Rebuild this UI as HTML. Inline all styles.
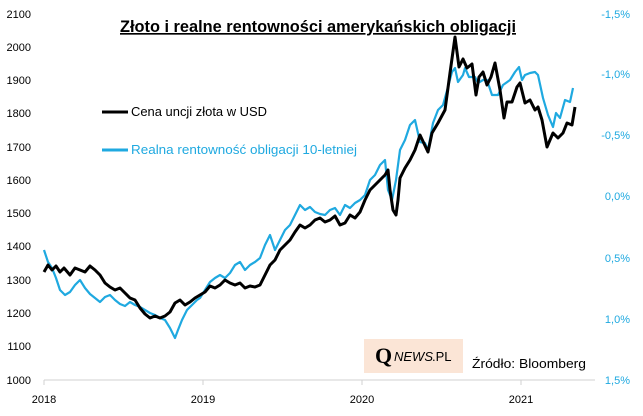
<!DOCTYPE html>
<html><head><meta charset="utf-8"><style>
body{margin:0;background:#fff;}
svg{display:block;font-family:"Liberation Sans",sans-serif;}
</style></head><body>
<svg width="643" height="416" viewBox="0 0 643 416">
<rect width="643" height="416" fill="#fff"/>
<g font-size="11" fill="#000" text-anchor="end">
<text x="31" y="18">2100</text><text x="31" y="51">2000</text><text x="31" y="84">1900</text>
<text x="31" y="117">1800</text><text x="31" y="151">1700</text><text x="31" y="184">1600</text>
<text x="31" y="217">1500</text><text x="31" y="250">1400</text><text x="31" y="284">1300</text>
<text x="31" y="317">1200</text><text x="31" y="350">1100</text><text x="31" y="384">1000</text>
</g>
<g font-size="11" fill="#1fa9e0" text-anchor="end">
<text x="630" y="18">-1,5%</text><text x="630" y="78">-1,0%</text><text x="630" y="139">-0,5%</text>
<text x="630" y="200">0,0%</text><text x="630" y="262">0,5%</text><text x="630" y="323">1,0%</text>
<text x="630" y="384">1,5%</text>
</g>
<line x1="44" y1="380" x2="595" y2="380" stroke="#d0d0d0" stroke-width="1"/>
<g stroke="#d0d0d0"><line x1="44" y1="380" x2="44" y2="385"/><line x1="203" y1="380" x2="203" y2="385"/><line x1="362" y1="380" x2="362" y2="385"/><line x1="521" y1="380" x2="521" y2="385"/></g>
<g font-size="11" text-anchor="middle"><text x="44" y="403">2018</text><text x="203" y="403">2019</text><text x="362" y="403">2020</text><text x="521" y="403">2021</text></g>
<text x="318" y="32" font-size="16.5" font-weight="bold" text-anchor="middle" text-decoration="underline" textLength="396" lengthAdjust="spacingAndGlyphs">Złoto i realne rentowności amerykańskich obligacji</text>
<line x1="102" y1="112" x2="128" y2="112" stroke="#000" stroke-width="3"/>
<text x="131" y="116" font-size="13" textLength="136" lengthAdjust="spacingAndGlyphs">Cena uncji złota w USD</text>
<line x1="102" y1="150" x2="128" y2="150" stroke="#1fa9e0" stroke-width="3"/>
<text x="131" y="154" font-size="13" fill="#1fa9e0" textLength="226" lengthAdjust="spacingAndGlyphs">Realna rentowność obligacji 10-letniej</text>
<rect x="364" y="339" width="99" height="34" fill="#fbe5d6"/>
<text x="375" y="363" font-family="Liberation Serif,serif" font-size="22" font-weight="bold">Q</text>
<text x="394" y="361" font-size="13" font-style="italic">NEWS</text><text x="432" y="361" font-size="13">.PL</text>
<text x="472" y="368" font-size="13" textLength="114" lengthAdjust="spacingAndGlyphs">Źródło: Bloomberg</text>
<polyline fill="none" stroke="#1fa9e0" stroke-width="2.2" stroke-linejoin="round" points="44,250 48,262 52,268 56,278 60,290 65,295 70,292 75,285 80,280 85,288 90,294 95,298 100,302 105,297 110,295 115,300 120,304 125,306 130,302 135,305 140,307 145,310 150,313 155,315 160,318 165,320 170,328 175,338 178,330 182,320 187,310 192,305 197,300 200,298 205,290 210,282 215,278 220,275 225,278 230,273 235,265 240,262 245,270 250,265 255,262 260,258 265,245 270,235 275,250 280,240 285,230 290,225 295,215 300,205 305,210 310,207 315,212 320,214 325,215 330,210 335,208 340,215 345,205 350,208 355,203 360,200 365,195 370,180 375,175 380,165 385,160 388,190 392,200 396,180 400,150 405,140 410,125 415,120 420,142 425,143 428,150 433,123 438,110 443,105 448,87 452,72 455,68 458,82 463,75 465,68 469,77 475,77 478,83 483,80 487,80 492,95 498,95 503,85 510,80 515,72 519,67 522,80 525,75 530,73 535,72 538,75 543,98 548,115 553,127 556,113 560,118 565,100 570,102 573,88"/>
<polyline fill="none" stroke="#000" stroke-width="3" stroke-linejoin="round" points="44,272 48,265 52,270 56,266 60,272 64,268 70,275 75,268 80,270 85,272 90,266 95,270 100,275 105,283 110,287 115,290 120,288 125,293 130,298 135,300 140,308 145,314 150,318 155,316 160,318 165,316 170,312 175,303 180,300 185,305 190,302 195,298 200,295 205,292 210,286 215,288 220,285 225,280 230,283 235,285 240,283 245,288 250,286 255,287 260,285 265,275 270,265 275,260 280,250 285,245 290,240 295,232 300,225 305,228 310,225 315,220 320,218 325,222 330,220 335,216 340,225 345,223 350,215 355,218 360,212 365,200 370,190 375,185 380,180 385,175 388,170 390,190 393,210 396,215 398,200 400,178 405,168 410,160 415,150 420,135 428,152 432,133 438,123 445,110 450,73 455,37 459,67 463,59 467,68 472,64 476,95 479,77 483,72 487,85 491,77 495,63 500,90 504,118 507,102 512,102 517,87 520,83 525,103 530,100 535,110 538,107 542,120 547,147 553,133 558,138 563,133 567,123 572,125 575,107"/>
</svg>
</body></html>
